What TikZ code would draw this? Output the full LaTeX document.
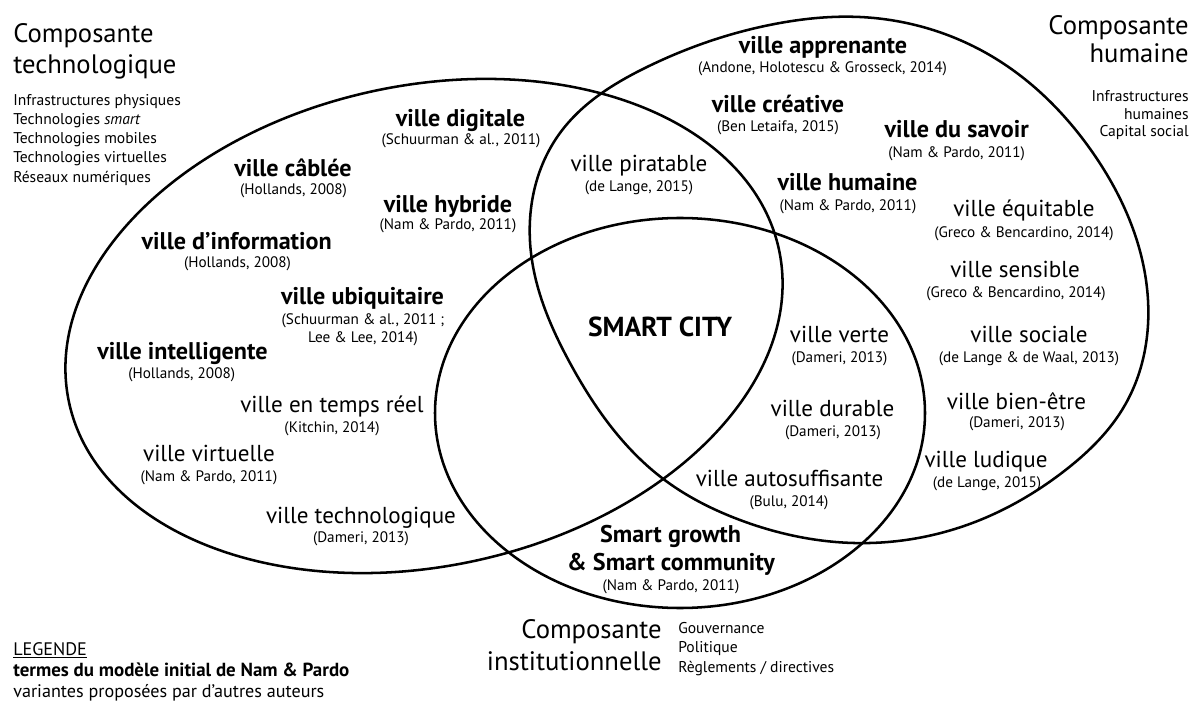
\documentclass[tikz,border=0pt]{standalone}
\usepackage{fontspec}
\setmainfont{PT Sans}
\usetikzlibrary{hobby}
\tikzset{
  ring/.style={draw=black, line width=1.9pt},
  nm/.style={anchor=base, inner sep=0pt, font=\fontsize{17.3}{19}\selectfont},
  bnm/.style={anchor=base, inner sep=0pt, font=\fontsize{18.1}{20}\selectfont\bfseries},
  ct/.style={anchor=base, inner sep=0pt, font=\fontsize{11.4}{13}\selectfont},
  ttl/.style={inner sep=0pt, font=\fontsize{20}{22}\selectfont},
  lst/.style={inner sep=0pt, font=\fontsize{11.7}{13}\selectfont},
  leg/.style={anchor=base west, inner sep=0pt, font=\fontsize{13.6}{15}\selectfont},
}
\begin{document}
\begin{tikzpicture}[x=0.75pt,y=-0.75pt]
\useasboundingbox (0,0) rectangle (1190,702);
\fill[white] (0,0) rectangle (1190,702);
% technological ellipse
\draw[ring, rotate around={12.15:(424,326)}] (424,326) ellipse [x radius=363.1, y radius=240.3];
% institutional ellipse
\draw[ring] (680,413) ellipse [x radius=245, y radius=195];
% human shape
\draw[ring, use Hobby shortcut, closed=true] (531,253) .. (560,133) .. (647,67) .. (780,23) .. (860,17) .. (993,57) .. (1093,153) .. (1148,300) .. (1125,405) .. (1063,472) .. (975,522) .. (854,543) .. (740,520) .. (662,478) .. (570,363);

% titles
\node[ttl, anchor=base west] (tA1) at (13,43) {Composante};
\node[ttl, anchor=base west] (tA2) at (13,74) {technologique};
\node[lst, anchor=base west] (lA1) at (13,106) {Infrastructures physiques};
\node[lst, anchor=base west] (lA2) at (13,125) {Technologies \textit{smart}};
\node[lst, anchor=base west] (lA3) at (13,144) {Technologies mobiles};
\node[lst, anchor=base west] (lA4) at (13,163) {Technologies virtuelles};
\node[lst, anchor=base west] (lA5) at (13,182.5) {Réseaux numériques};

\node[ttl, anchor=base east] (tB1) at (1189,35) {Composante};
\node[ttl, anchor=base east] (tB2) at (1189,63) {humaine};
\node[lst, anchor=base east] (lB1) at (1189,102) {Infrastructures};
\node[lst, anchor=base east] (lB2) at (1189,119.5) {humaines};
\node[lst, anchor=base east] (lB3) at (1189,137) {Capital social};

\node[ttl, anchor=base east] (tC1) at (662,638) {Composante};
\node[ttl, anchor=base east] (tC2) at (662,670) {institutionnelle};
\node[lst, anchor=base west] (lC1) at (678,633) {Gouvernance};
\node[lst, anchor=base west] (lC2) at (678,652) {Politique};
\node[lst, anchor=base west] (lC3) at (678,672) {Règlements / directives};

% technological terms
\node[bnm] (cab) at (293,177) {ville câblée};
\node[ct] (cabc) at (293.5,195) {(Hollands, 2008)};
\node[bnm] (dig) at (460.5,127) {ville digitale};
\node[ct] (digc) at (461,145) {(Schuurman \& al., 2011)};
\node[bnm] (hyb) at (448,213) {ville hybride};
\node[ct] (hybc) at (448,230) {(Nam \& Pardo, 2011)};
\node[bnm] (inf) at (236.7,250) {ville d’information};
\node[ct] (infc) at (237.5,268) {(Hollands, 2008)};
\node[bnm] (ubi) at (362.5,305) {ville ubiquitaire};
\node[ct] (ubic) at (363,325) {(Schuurman \& al., 2011 ;};
\node[ct] (ubid) at (363,343) {Lee \& Lee, 2014)};
\node[bnm] (intl) at (182.5,360) {ville intelligente};
\node[ct] (intlc) at (181.7,379) {(Hollands, 2008)};
\node[nm] (tr) at (332,413) {ville en temps réel};
\node[ct] (trc) at (332,433) {(Kitchin, 2014)};
\node[nm] (vir) at (209,462) {ville virtuelle};
\node[ct] (virc) at (209,482) {(Nam \& Pardo, 2011)};
\node[nm] (tec) at (361,523) {ville technologique};
\node[ct] (tecc) at (361,542) {(Dameri, 2013)};

% human terms
\node[bnm] (app) at (823,54) {ville apprenante};
\node[ct] (appc) at (822.5,73) {(Andone, Holotescu \& Grosseck, 2014)};
\node[bnm] (cre) at (778,113) {ville créative};
\node[ct] (crec) at (778,132) {(Ben Letaifa, 2015)};
\node[bnm] (sav) at (956.7,138) {ville du savoir};
\node[ct] (savc) at (956.7,158) {(Nam \& Pardo, 2011)};
\node[bnm] (hum) at (847.5,191) {ville humaine};
\node[ct] (humc) at (848,211) {(Nam \& Pardo, 2011)};
\node[nm] (pir) at (639,172) {ville piratable};
\node[ct] (pirc) at (639,192) {(de Lange, 2015)};
\node[nm] (equ) at (1024,217) {ville équitable};
\node[ct] (equc) at (1024,238) {(Greco \& Bencardino, 2014)};
\node[nm] (sen) at (1015,278) {ville sensible};
\node[ct] (senc) at (1016,298) {(Greco \& Bencardino, 2014)};
\node[nm] (soc) at (1029,343) {ville sociale};
\node[ct] (socc) at (1029,363) {(de Lange \& de Waal, 2013)};
\node[nm] (bie) at (1016.5,410) {ville bien-être};
\node[ct] (biec) at (1017,428) {(Dameri, 2013)};
\node[nm] (lud) at (986,468) {ville ludique};
\node[ct] (ludc) at (987,488) {(de Lange, 2015)};

% institutional / centre
\node[anchor=base, inner sep=0pt, font=\fontsize{20.6}{22}\selectfont\bfseries] (sc) at (660,337) {SMART CITY};
\node[nm] (ver) at (839.5,343) {ville verte};
\node[ct] (verc) at (839.5,363) {(Dameri, 2013)};
\node[nm] (dur) at (832.5,417) {ville durable};
\node[ct] (durc) at (833,437) {(Dameri, 2013)};
\node[nm] (aut) at (789.5,487) {ville autosuffisante};
\node[ct] (autc) at (789,507) {(Bulu, 2014)};
\node[bnm] (sg1) at (670.5,542) {Smart growth};
\node[bnm] (sg2) at (671,570) {\& Smart community};
\node[ct] (sgc) at (671,590) {(Nam \& Pardo, 2011)};

% legend
\node[leg] (lg1) at (13,655) {\underline{LEGENDE}};
\node[leg, font=\fontsize{14.2}{16}\selectfont\bfseries] (lg2) at (13,676) {termes du modèle initial de Nam \& Pardo};
\node[leg] (lg3) at (13,697) {variantes proposées par d’autres auteurs};
\end{tikzpicture}
\end{document}
